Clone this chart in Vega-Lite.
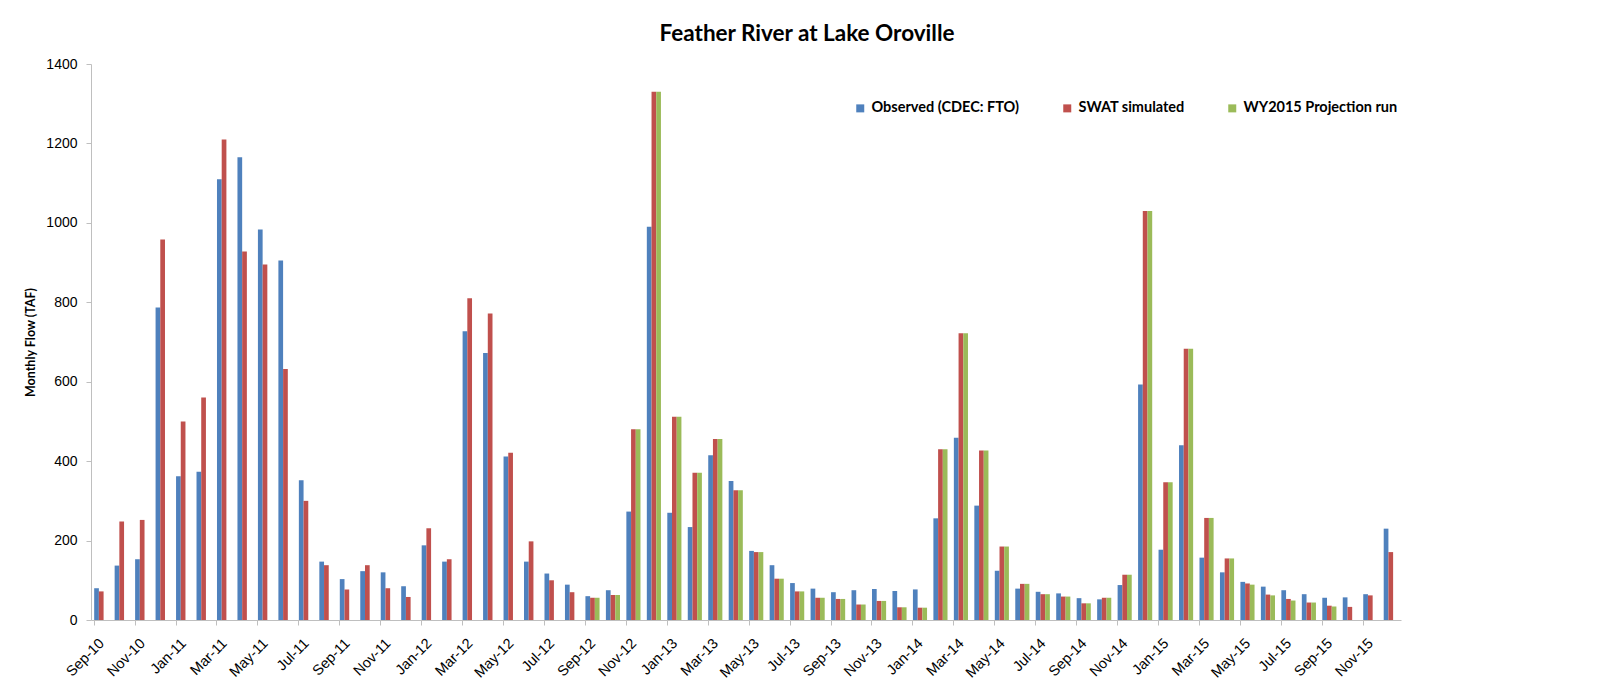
{
  "$schema": "https://vega.github.io/schema/vega-lite/v6.json",
  "width": 1310,
  "height": 556,
  "autosize": {"type": "none"},
  "padding": {"left": 91, "top": 64, "right": 203, "bottom": 62},
  "background": "white",
  "config": {"view": {"stroke": null}, "font": "Liberation Sans"},
  "title": {"text": "Feather River at Lake Oroville", "font": "Lato", "fontSize": 22.5, "fontWeight": "bold", "color": "#000000", "anchor": "middle", "dx": 61, "offset": 12},
  "data": {"values": [
    {"m": "Sep-10", "obs": 80, "swat": 72},
    {"m": "Oct-10", "obs": 137, "swat": 248},
    {"m": "Nov-10", "obs": 153, "swat": 252},
    {"m": "Dec-10", "obs": 787, "swat": 958},
    {"m": "Jan-11", "obs": 362, "swat": 500},
    {"m": "Feb-11", "obs": 373, "swat": 560},
    {"m": "Mar-11", "obs": 1110, "swat": 1210},
    {"m": "Apr-11", "obs": 1165, "swat": 928},
    {"m": "May-11", "obs": 983, "swat": 895},
    {"m": "Jun-11", "obs": 905, "swat": 632},
    {"m": "Jul-11", "obs": 352, "swat": 300},
    {"m": "Aug-11", "obs": 147, "swat": 138},
    {"m": "Sep-11", "obs": 103, "swat": 77},
    {"m": "Oct-11", "obs": 123, "swat": 138},
    {"m": "Nov-11", "obs": 120, "swat": 80},
    {"m": "Dec-11", "obs": 85, "swat": 58},
    {"m": "Jan-12", "obs": 188, "swat": 231},
    {"m": "Feb-12", "obs": 147, "swat": 153},
    {"m": "Mar-12", "obs": 727, "swat": 810},
    {"m": "Apr-12", "obs": 672, "swat": 772},
    {"m": "May-12", "obs": 412, "swat": 421},
    {"m": "Jun-12", "obs": 147, "swat": 198},
    {"m": "Jul-12", "obs": 117, "swat": 100},
    {"m": "Aug-12", "obs": 89, "swat": 70},
    {"m": "Sep-12", "obs": 60, "swat": 56, "wy": 56},
    {"m": "Oct-12", "obs": 75, "swat": 63, "wy": 63},
    {"m": "Nov-12", "obs": 273, "swat": 480, "wy": 480},
    {"m": "Dec-12", "obs": 990, "swat": 1330, "wy": 1330},
    {"m": "Jan-13", "obs": 270, "swat": 512, "wy": 512},
    {"m": "Feb-13", "obs": 234, "swat": 371, "wy": 371},
    {"m": "Mar-13", "obs": 415, "swat": 456, "wy": 456},
    {"m": "Apr-13", "obs": 350, "swat": 327, "wy": 327},
    {"m": "May-13", "obs": 174, "swat": 171, "wy": 171},
    {"m": "Jun-13", "obs": 138, "swat": 104, "wy": 104},
    {"m": "Jul-13", "obs": 93, "swat": 72, "wy": 72},
    {"m": "Aug-13", "obs": 79, "swat": 56, "wy": 56},
    {"m": "Sep-13", "obs": 70, "swat": 53, "wy": 53},
    {"m": "Oct-13", "obs": 75, "swat": 39, "wy": 39},
    {"m": "Nov-13", "obs": 78, "swat": 48, "wy": 48},
    {"m": "Dec-13", "obs": 73, "swat": 32, "wy": 32},
    {"m": "Jan-14", "obs": 77, "swat": 31, "wy": 31},
    {"m": "Feb-14", "obs": 256, "swat": 430, "wy": 430},
    {"m": "Mar-14", "obs": 459, "swat": 722, "wy": 722},
    {"m": "Apr-14", "obs": 288, "swat": 427, "wy": 427},
    {"m": "May-14", "obs": 124, "swat": 185, "wy": 185},
    {"m": "Jun-14", "obs": 79, "swat": 91, "wy": 91},
    {"m": "Jul-14", "obs": 71, "swat": 65, "wy": 65},
    {"m": "Aug-14", "obs": 67, "swat": 59, "wy": 59},
    {"m": "Sep-14", "obs": 55, "swat": 42, "wy": 42},
    {"m": "Oct-14", "obs": 52, "swat": 56, "wy": 56},
    {"m": "Nov-14", "obs": 88, "swat": 114, "wy": 114},
    {"m": "Dec-14", "obs": 593, "swat": 1030, "wy": 1030},
    {"m": "Jan-15", "obs": 177, "swat": 347, "wy": 347},
    {"m": "Feb-15", "obs": 440, "swat": 683, "wy": 683},
    {"m": "Mar-15", "obs": 157, "swat": 257, "wy": 257},
    {"m": "Apr-15", "obs": 120, "swat": 155, "wy": 155},
    {"m": "May-15", "obs": 96, "swat": 92, "wy": 89},
    {"m": "Jun-15", "obs": 84, "swat": 64, "wy": 62},
    {"m": "Jul-15", "obs": 75, "swat": 53, "wy": 49},
    {"m": "Aug-15", "obs": 65, "swat": 44, "wy": 44},
    {"m": "Sep-15", "obs": 56, "swat": 36, "wy": 34},
    {"m": "Oct-15", "obs": 57, "swat": 33},
    {"m": "Nov-15", "obs": 65, "swat": 62},
    {"m": "Dec-15", "obs": 230, "swat": 171}
  ]},
  "transform": [{"fold": ["obs", "swat", "wy"], "as": ["series", "flow"]}],
  "mark": {"type": "bar"},
  "encoding": {
    "x": {
      "field": "m", "type": "nominal", "sort": null,
      "scale": {"paddingInner": 0.31, "paddingOuter": 0.155},
      "axis": {
        "title": null,
        "values": ["Sep-10","Nov-10","Jan-11","Mar-11","May-11","Jul-11","Sep-11","Nov-11","Jan-12","Mar-12","May-12","Jul-12","Sep-12","Nov-12","Jan-13","Mar-13","May-13","Jul-13","Sep-13","Nov-13","Jan-14","Mar-14","May-14","Jul-14","Sep-14","Nov-14","Jan-15","Mar-15","May-15","Jul-15","Sep-15","Nov-15"],
        "bandPosition": 0, "labelOffset": -4, "labelAngle": -45, "labelAlign": "right", "labelBaseline": "top",
        "labelFontSize": 14.5, "labelColor": "#000000", "tickSize": 5, "tickColor": "#bfbfbf", "domainColor": "#bfbfbf", "labelPadding": 11
      }
    },
    "xOffset": {"field": "series", "type": "nominal", "scale": {"paddingInner": 0, "paddingOuter": 0}},
    "y": {
      "field": "flow", "type": "quantitative",
      "scale": {"domain": [0, 1400], "nice": false},
      "axis": {
        "title": "Monthly Flow (TAF)", "values": [0, 200, 400, 600, 800, 1000, 1200, 1400], "grid": false, "format": "d",
        "labelFontSize": 14, "labelColor": "#000000", "tickSize": 5, "tickColor": "#bfbfbf", "domainColor": "#bfbfbf", "labelPadding": 9,
        "titleFont": "Lato", "titleFontWeight": "bold", "titleFontSize": 12.5, "titleColor": "#000000", "titlePadding": 8
      }
    },
    "color": {
      "field": "series", "type": "nominal",
      "scale": {"domain": ["obs", "swat", "wy"], "range": ["#4F81BD", "#C0504D", "#9BBB59"]},
      "legend": {
        "title": null, "orient": "none", "legendX": 762, "legendY": 37, "direction": "horizontal",
        "symbolType": "square", "symbolSize": 64, "symbolStrokeWidth": 0, "labelFont": "Lato", "labelFontWeight": "bold",
        "labelFontSize": 14.5, "labelColor": "#000000", "columnPadding": 40, "labelOffset": 4, "labelLimit": 300,
        "labelExpr": "datum.value == 'obs' ? 'Observed (CDEC: FTO)' : datum.value == 'swat' ? 'SWAT simulated' : 'WY2015 Projection run'"
      }
    }
  }
}
